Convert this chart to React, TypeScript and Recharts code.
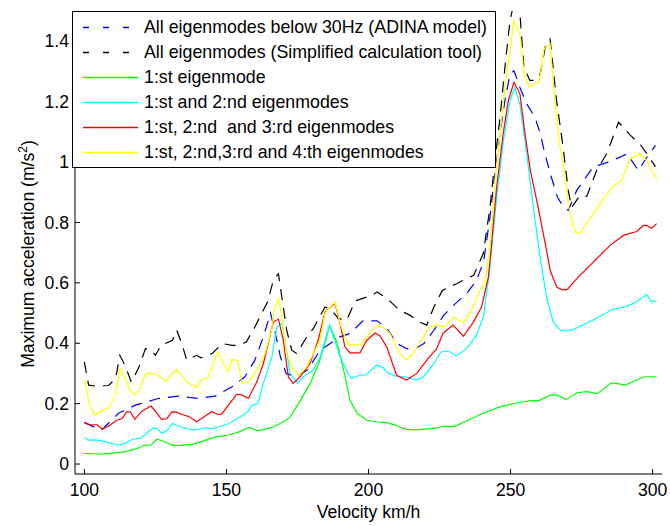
import React from 'react';
import { LineChart, Line, XAxis, YAxis, Legend } from 'recharts';

const FONT = '"Liberation Sans", Arial, Helvetica, sans-serif';

// velocity (km/h) and max acceleration (m/s2) read per curve
const adinaSpeed = [100, 106, 112, 118, 126, 133, 140, 146, 152, 156.5, 160, 163, 165.5, 167, 169, 171, 174.5, 178.5, 183, 186.5, 190, 193.5, 198, 203, 206.5, 210, 213.5, 216, 219.5, 223, 226.5, 230, 235, 238, 240.5, 242.75, 244.5, 246.3, 248, 249.8, 251.2, 253.3, 255.7, 258.5, 260.5, 262, 264, 266.5, 268, 270.3, 273.3, 279, 284, 288.5, 291, 295, 298, 301];
const adinaAcc = [0.137, 0.112, 0.168, 0.195, 0.217, 0.225, 0.217, 0.225, 0.256, 0.289, 0.344, 0.421, 0.5, 0.443, 0.355, 0.3, 0.289, 0.311, 0.377, 0.399, 0.421, 0.432, 0.474, 0.474, 0.449, 0.399, 0.382, 0.38, 0.399, 0.443, 0.493, 0.526, 0.57, 0.608, 0.669, 0.818, 0.961, 1.093, 1.203, 1.291, 1.302, 1.247, 1.192, 1.15, 1.093, 1.03, 0.961, 0.884, 0.86, 0.84, 0.906, 0.983, 0.999, 1.016, 1.027, 0.972, 1.016, 1.055];

const simplSpeed = [100, 101.5, 104, 108.5, 111, 112.5, 114.5, 116.5, 119, 121.5, 123, 125, 127, 131, 132.5, 134.5, 136, 139.5, 141, 145, 148.5, 152, 154, 157, 160, 164.5, 166.5, 168.3, 169.5, 171.2, 173, 174.7, 178.3, 180.6, 184.7, 187, 189.4, 192.3, 195.3, 201.5, 203, 206.5, 211, 214.5, 218, 220.5, 223, 226, 231, 234.5, 237, 240.4, 242.75, 244.5, 246.3, 248, 249.8, 251.5, 253.3, 254.7, 256.8, 258.6, 260.4, 262.2, 263.9, 266.2, 268.5, 270.3, 271.5, 274.4, 276.8, 280.3, 283.8, 288, 292, 295.5, 298, 301];
const simplAcc = [0.338, 0.261, 0.258, 0.26, 0.283, 0.36, 0.322, 0.272, 0.316, 0.382, 0.38, 0.36, 0.393, 0.41, 0.443, 0.393, 0.344, 0.36, 0.352, 0.366, 0.399, 0.393, 0.393, 0.404, 0.454, 0.537, 0.608, 0.63, 0.553, 0.443, 0.377, 0.366, 0.421, 0.449, 0.52, 0.509, 0.482, 0.476, 0.54, 0.56, 0.57, 0.548, 0.509, 0.493, 0.47, 0.46, 0.52, 0.575, 0.597, 0.614, 0.625, 0.697, 0.85, 1.005, 1.148, 1.313, 1.468, 1.54, 1.49, 1.313, 1.27, 1.27, 1.29, 1.38, 1.407, 1.203, 1.049, 0.906, 0.85, 0.889, 0.886, 0.972, 1.027, 1.132, 1.09, 1.06, 1.027, 0.985];

const mode1Speed = [100, 103, 106, 110, 114, 118, 121, 123.5, 125.5, 127.2, 131, 134, 138, 141.5, 145.5, 151, 154, 158, 161, 163.5, 167, 169, 171, 172.5, 174, 176, 179.5, 182.5, 185, 186.3, 189, 191.5, 193.5, 196, 199.5, 202.5, 206.5, 209.5, 213, 217, 223, 226.5, 230, 234, 239.5, 246.5, 252.5, 257, 260, 264, 266.5, 269.5, 273.5, 277, 280.5, 285.5, 290.5, 297, 301.4];
const mode1Acc = [0.035, 0.034, 0.033, 0.036, 0.04, 0.05, 0.062, 0.063, 0.082, 0.078, 0.062, 0.062, 0.065, 0.075, 0.088, 0.096, 0.105, 0.121, 0.11, 0.115, 0.125, 0.135, 0.145, 0.157, 0.18, 0.21, 0.267, 0.333, 0.41, 0.46, 0.4, 0.3, 0.21, 0.168, 0.145, 0.14, 0.137, 0.129, 0.115, 0.113, 0.118, 0.125, 0.124, 0.14, 0.165, 0.19, 0.203, 0.21, 0.21, 0.228, 0.228, 0.214, 0.236, 0.24, 0.233, 0.269, 0.262, 0.289, 0.289];

const mode12Speed = [100, 101.5, 104, 107, 111.5, 113.5, 117, 120, 124, 125.5, 127.3, 129, 131, 134.5, 139, 142.5, 145, 151, 154.5, 157.5, 159, 161, 163, 166, 167.8, 169.5, 170.6, 172.4, 175, 177, 180.5, 183, 186.3, 190, 192.8, 194, 197, 199, 202.8, 205, 207, 210, 213, 217, 219.5, 223, 225.5, 228, 231, 234.5, 238, 240.5, 242.75, 245, 247.5, 249.8, 251.5, 253.3, 255.7, 258, 260.4, 262.7, 265, 268, 272, 279, 285.6, 290.9, 294.4, 297.9, 299.6, 301.4];
const mode12Acc = [0.088, 0.079, 0.08, 0.075, 0.063, 0.065, 0.082, 0.086, 0.118, 0.118, 0.101, 0.11, 0.134, 0.121, 0.112, 0.12, 0.116, 0.134, 0.154, 0.173, 0.195, 0.2, 0.267, 0.355, 0.455, 0.465, 0.41, 0.3, 0.267, 0.289, 0.31, 0.355, 0.46, 0.355, 0.3, 0.283, 0.294, 0.294, 0.327, 0.32, 0.3, 0.289, 0.289, 0.278, 0.29, 0.333, 0.371, 0.374, 0.358, 0.382, 0.426, 0.49, 0.652, 0.873, 1.071, 1.203, 1.247, 1.19, 1.027, 0.85, 0.685, 0.55, 0.47, 0.44, 0.445, 0.476, 0.511, 0.522, 0.537, 0.561, 0.537, 0.54];

const mode123Speed = [100, 102, 104.4, 106.3, 108.4, 111.4, 113.2, 114.9, 116.1, 117.8, 120.2, 123.5, 127.2, 129, 130.8, 132.5, 134.3, 136.6, 139.5, 141.9, 144.8, 147.1, 148.3, 150.7, 153.6, 155.4, 157.7, 160.7, 163, 164.7, 166.5, 168.3, 170, 171.8, 173.5, 175.9, 179.4, 182.3, 184.7, 188.2, 190, 191.7, 193.5, 197, 199.4, 202.3, 204, 206.4, 209.9, 213.4, 217, 220.5, 224, 226.3, 229.8, 233.4, 236.9, 239.8, 242.2, 243, 245.1, 247.4, 249.2, 251.2, 253.3, 255, 257, 259.5, 262, 264, 266.3, 268.5, 270, 273.3, 285, 289.7, 294.4, 296.7, 297.9, 299.6, 301.4];
const mode123Acc = [0.137, 0.13, 0.13, 0.116, 0.125, 0.145, 0.15, 0.173, 0.173, 0.148, 0.175, 0.192, 0.148, 0.15, 0.173, 0.172, 0.164, 0.158, 0.14, 0.155, 0.173, 0.164, 0.165, 0.195, 0.231, 0.229, 0.217, 0.272, 0.333, 0.399, 0.47, 0.48, 0.41, 0.289, 0.267, 0.289, 0.333, 0.41, 0.503, 0.533, 0.465, 0.388, 0.368, 0.368, 0.41, 0.434, 0.425, 0.388, 0.294, 0.278, 0.3, 0.344, 0.382, 0.434, 0.46, 0.423, 0.47, 0.52, 0.619, 0.697, 0.917, 1.093, 1.203, 1.264, 1.225, 1.1, 0.97, 0.86, 0.74, 0.64, 0.585, 0.576, 0.578, 0.614, 0.724, 0.757, 0.77, 0.79, 0.79, 0.781, 0.796];

const mode1234Speed = [100, 101.7, 103.5, 106.1, 109, 110.8, 112.6, 114.3, 116.4, 118.1, 119.6, 121.6, 123.7, 125.5, 128.6, 132.5, 136, 139.5, 141.5, 143.4, 146.9, 150.5, 152.1, 154, 155.4, 157.7, 160.7, 163.6, 165.9, 166.8, 168.3, 169.5, 171.2, 173.5, 175.7, 178.3, 181.2, 182.9, 184.7, 188.2, 190, 191.7, 193.5, 195.3, 197, 199.4, 202.3, 205.2, 207.6, 211.1, 213.4, 215.8, 219.3, 221.6, 224, 226.9, 229.8, 233.4, 235.7, 239.2, 241, 242.75, 244.5, 246.3, 248, 249.8, 251.2, 253.3, 254.7, 256.6, 258.6, 260.1, 261.8, 263.9, 265.6, 267.4, 269.2, 270.5, 272.7, 274.4, 279.1, 285.6, 289.1, 292, 295.5, 297.9, 301.4];
const mode1234Acc = [0.283, 0.2, 0.162, 0.176, 0.19, 0.228, 0.316, 0.283, 0.239, 0.228, 0.25, 0.3, 0.299, 0.296, 0.274, 0.313, 0.272, 0.253, 0.281, 0.283, 0.371, 0.305, 0.346, 0.343, 0.267, 0.27, 0.311, 0.366, 0.443, 0.509, 0.548, 0.487, 0.366, 0.311, 0.294, 0.322, 0.377, 0.41, 0.5, 0.537, 0.465, 0.421, 0.39, 0.395, 0.393, 0.421, 0.454, 0.454, 0.432, 0.366, 0.344, 0.367, 0.421, 0.454, 0.46, 0.454, 0.487, 0.468, 0.498, 0.575, 0.597, 0.72, 0.939, 1.093, 1.247, 1.369, 1.468, 1.424, 1.297, 1.247, 1.261, 1.265, 1.374, 1.391, 1.203, 1.05, 0.95, 0.85, 0.768, 0.763, 0.829, 0.915, 0.939, 1.01, 1.027, 1.005, 0.944];

const xTicks = [100, 150, 200, 250, 300];
const yTicks = [0, 0.2, 0.4, 0.6, 0.8, 1, 1.2, 1.4];

const toPoints = (speed: number[], acc: number[]) => speed.map((v, i) => ({ v, a: acc[i] }));

const series = [
  { key: 'adina', speed: adinaSpeed, acc: adinaAcc, color: '#0000ff', dashed: true, label: 'All eigenmodes below 30Hz (ADINA model)' },
  { key: 'simpl', speed: simplSpeed, acc: simplAcc, color: '#000000', dashed: true, label: 'All eigenmodes (Simplified calculation tool)' },
  { key: 'm1', speed: mode1Speed, acc: mode1Acc, color: '#00ff00', dashed: false, label: '1:st eigenmode' },
  { key: 'm12', speed: mode12Speed, acc: mode12Acc, color: '#00ffff', dashed: false, label: '1:st and 2:nd eigenmodes' },
  { key: 'm123', speed: mode123Speed, acc: mode123Acc, color: '#ff0000', dashed: false, label: '1:st, 2:nd  and 3:rd eigenmodes' },
  { key: 'm1234', speed: mode1234Speed, acc: mode1234Acc, color: '#ffff00', dashed: false, label: '1:st, 2:nd,3:rd and 4:th eigenmodes' },
];

const tickStyle = { fill: '#000', fontSize: 17.6, fontFamily: FONT };

const renderLegend = () => (
  <svg width={424} height={157} style={{ display: 'block' }}>
    <rect x={0.5} y={0.5} width={423} height={156} fill="#fff" stroke="#000" />
    {series.map((s, i) => (
      <g key={s.key}>
        <line
          x1={11}
          x2={66}
          y1={16.5 + 25 * i}
          y2={16.5 + 25 * i}
          stroke={s.color}
          strokeWidth={1.3}
          strokeDasharray={s.dashed ? '6 14' : undefined}
        />
        <text
          x={72}
          y={22 + 25 * i}
          fontSize={17.8}
          fontFamily={FONT}
          fill="#000"
          xmlSpace="preserve"
          style={{ whiteSpace: 'pre' }}
        >
          {s.label}
        </text>
      </g>
    ))}
  </svg>
);

const YLabel = () => (
  <text
    transform="translate(34,254) rotate(-90)"
    textAnchor="middle"
    fontSize={17.6}
    fontFamily={FONT}
    fill="#000"
  >
    Maximum acceleration (m/s<tspan dy={-7} fontSize={12}>2</tspan><tspan dy={7}>)</tspan>
  </text>
);

const XLabel = () => (
  <text x={368.5} y={518} textAnchor="middle" fontSize={17.6} fontFamily={FONT} fill="#000">
    Velocity km/h
  </text>
);

export default function App() {
  return (
    <div style={{ position: 'absolute', left: 0, top: 0, width: 670, height: 526, background: '#fff' }}>
      <LineChart width={670} height={526} margin={{ top: 11, right: 8, bottom: 0, left: 15 }}>
        <XAxis
          dataKey="v"
          type="number"
          domain={[96.7, 303.3]}
          ticks={xTicks}
          allowDataOverflow
          height={52}
          stroke="#000"
          tickSize={-5}
          tickMargin={15}
          tick={tickStyle}
          label={<XLabel />}
        />
        <XAxis
          xAxisId="top"
          orientation="top"
          dataKey="v"
          type="number"
          domain={[96.7, 303.3]}
          ticks={xTicks}
          allowDataOverflow
          height={0}
          stroke="#000"
          tickSize={-5}
          tick={false}
        />
        <YAxis
          type="number"
          domain={[-0.033, 1.5]}
          ticks={yTicks}
          allowDataOverflow
          width={60}
          stroke="#000"
          tickSize={-5}
          tickMargin={11}
          tick={tickStyle}
          label={<YLabel />}
        />
        <YAxis
          yAxisId="right"
          orientation="right"
          type="number"
          domain={[-0.033, 1.5]}
          ticks={yTicks}
          allowDataOverflow
          width={0}
          stroke="#000"
          tickSize={-5}
          tick={false}
        />
        {series.map((s) => (
          <Line
            key={s.key}
            data={toPoints(s.speed, s.acc)}
            dataKey="a"
            name={s.label}
            stroke={s.color}
            strokeWidth={1.2}
            strokeDasharray={s.dashed ? '11 8' : undefined}
            dot={false}
            activeDot={false}
            isAnimationActive={false}
          />
        ))}
        <Legend
          layout="horizontal"
          align="center"
          verticalAlign="middle"
          content={renderLegend}
          wrapperStyle={{ left: 72, top: 11, width: 424, height: 157, lineHeight: 0 }}
        />
      </LineChart>
    </div>
  );
}
